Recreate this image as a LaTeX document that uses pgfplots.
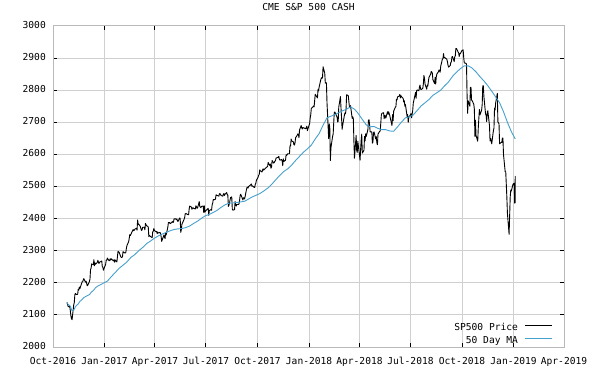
\documentclass[border=0pt]{standalone}
\usepackage{pgfplots}
\pgfplotsset{compat=1.18}
\usepgfplotslibrary{dateplot}
\usepackage{fontspec}
\setmainfont{DejaVu Sans Mono}
\definecolor{maBlue}{RGB}{70,160,205}
\definecolor{gridGray}{RGB}{208,208,208}
\newcommand{\chartfont}{\fontsize{9.6bp}{11bp}\selectfont}
\pgfplotstableread{
d p
2016-10-26 2139
2016-10-27 2133
2016-10-28 2126
2016-10-31 2126
2016-11-01 2111
2016-11-02 2097
2016-11-03 2088
2016-11-04 2085
2016-11-07 2131
2016-11-08 2139
2016-11-09 2163
2016-11-10 2167
2016-11-11 2164
2016-11-14 2164
2016-11-15 2180
2016-11-16 2177
2016-11-17 2187
2016-11-18 2182
2016-11-21 2198
2016-11-22 2203
2016-11-23 2204
2016-11-25 2213
2016-11-28 2202
2016-11-29 2205
2016-11-30 2199
2016-12-01 2191
2016-12-02 2192
2016-12-05 2204
2016-12-06 2212
2016-12-07 2241
2016-12-08 2246
2016-12-09 2259
2016-12-12 2256
2016-12-13 2272
2016-12-14 2253
2016-12-15 2262
2016-12-16 2258
2016-12-19 2263
2016-12-20 2270
2016-12-21 2265
2016-12-22 2260
2016-12-23 2264
2016-12-27 2268
2016-12-28 2250
2016-12-29 2249
2016-12-30 2239
2017-01-03 2258
2017-01-04 2271
2017-01-05 2270
2017-01-06 2277
2017-01-09 2269
2017-01-10 2269
2017-01-11 2275
2017-01-12 2271
2017-01-13 2275
2017-01-17 2268
2017-01-18 2272
2017-01-19 2264
2017-01-20 2271
2017-01-23 2265
2017-01-24 2281
2017-01-25 2298
2017-01-26 2297
2017-01-27 2295
2017-01-30 2281
2017-01-31 2279
2017-02-01 2279
2017-02-02 2281
2017-02-03 2297
2017-02-06 2293
2017-02-07 2293
2017-02-08 2295
2017-02-09 2308
2017-02-10 2316
2017-02-13 2328
2017-02-14 2338
2017-02-15 2350
2017-02-16 2347
2017-02-17 2351
2017-02-21 2366
2017-02-22 2362
2017-02-23 2364
2017-02-24 2367
2017-02-27 2370
2017-02-28 2364
2017-03-01 2396
2017-03-02 2382
2017-03-03 2383
2017-03-06 2375
2017-03-07 2368
2017-03-08 2363
2017-03-09 2365
2017-03-10 2373
2017-03-13 2373
2017-03-14 2365
2017-03-15 2385
2017-03-16 2381
2017-03-17 2378
2017-03-20 2374
2017-03-21 2344
2017-03-22 2348
2017-03-23 2346
2017-03-24 2344
2017-03-27 2341
2017-03-28 2359
2017-03-29 2361
2017-03-30 2369
2017-03-31 2363
2017-04-03 2359
2017-04-04 2360
2017-04-05 2353
2017-04-06 2358
2017-04-07 2355
2017-04-10 2357
2017-04-11 2353
2017-04-12 2344
2017-04-13 2329
2017-04-17 2349
2017-04-18 2342
2017-04-19 2338
2017-04-20 2355
2017-04-21 2349
2017-04-24 2374
2017-04-25 2388
2017-04-26 2387
2017-04-27 2388
2017-04-28 2384
2017-05-01 2388
2017-05-02 2391
2017-05-03 2388
2017-05-04 2389
2017-05-05 2399
2017-05-08 2399
2017-05-09 2397
2017-05-10 2399
2017-05-11 2394
2017-05-12 2391
2017-05-15 2402
2017-05-16 2400
2017-05-17 2357
2017-05-18 2365
2017-05-19 2382
2017-05-22 2394
2017-05-23 2398
2017-05-24 2404
2017-05-25 2415
2017-05-26 2416
2017-05-30 2412
2017-05-31 2412
2017-06-01 2430
2017-06-02 2439
2017-06-05 2436
2017-06-06 2429
2017-06-07 2433
2017-06-08 2434
2017-06-09 2432
2017-06-12 2430
2017-06-13 2440
2017-06-14 2437
2017-06-15 2432
2017-06-16 2433
2017-06-19 2453
2017-06-20 2437
2017-06-21 2436
2017-06-22 2434
2017-06-23 2438
2017-06-26 2439
2017-06-27 2419
2017-06-28 2440
2017-06-29 2420
2017-06-30 2423
2017-07-03 2429
2017-07-05 2432
2017-07-06 2410
2017-07-07 2425
2017-07-10 2428
2017-07-11 2426
2017-07-12 2443
2017-07-13 2448
2017-07-14 2459
2017-07-17 2459
2017-07-18 2461
2017-07-19 2474
2017-07-20 2473
2017-07-21 2472
2017-07-24 2470
2017-07-25 2477
2017-07-26 2478
2017-07-27 2475
2017-07-28 2472
2017-07-31 2470
2017-08-01 2476
2017-08-02 2478
2017-08-03 2472
2017-08-04 2476
2017-08-07 2481
2017-08-08 2474
2017-08-09 2474
2017-08-10 2438
2017-08-11 2441
2017-08-14 2466
2017-08-15 2464
2017-08-16 2468
2017-08-17 2430
2017-08-18 2426
2017-08-21 2428
2017-08-22 2453
2017-08-23 2444
2017-08-24 2439
2017-08-25 2444
2017-08-28 2444
2017-08-29 2446
2017-08-30 2457
2017-08-31 2472
2017-09-01 2476
2017-09-05 2458
2017-09-06 2465
2017-09-07 2465
2017-09-08 2461
2017-09-11 2488
2017-09-12 2496
2017-09-13 2498
2017-09-14 2495
2017-09-15 2500
2017-09-18 2504
2017-09-19 2506
2017-09-20 2508
2017-09-21 2501
2017-09-22 2502
2017-09-25 2497
2017-09-26 2497
2017-09-27 2507
2017-09-28 2510
2017-09-29 2519
2017-10-02 2529
2017-10-03 2535
2017-10-04 2537
2017-10-05 2552
2017-10-06 2549
2017-10-09 2545
2017-10-10 2551
2017-10-11 2555
2017-10-12 2551
2017-10-13 2553
2017-10-16 2558
2017-10-17 2560
2017-10-18 2561
2017-10-19 2562
2017-10-20 2575
2017-10-23 2565
2017-10-24 2570
2017-10-25 2557
2017-10-26 2560
2017-10-27 2581
2017-10-30 2573
2017-10-31 2575
2017-11-01 2579
2017-11-02 2580
2017-11-03 2588
2017-11-06 2591
2017-11-07 2590
2017-11-08 2594
2017-11-09 2585
2017-11-10 2582
2017-11-13 2584
2017-11-14 2579
2017-11-15 2565
2017-11-16 2586
2017-11-17 2578
2017-11-20 2582
2017-11-21 2599
2017-11-22 2597
2017-11-24 2602
2017-11-27 2602
2017-11-28 2627
2017-11-29 2626
2017-11-30 2648
2017-12-01 2642
2017-12-04 2639
2017-12-05 2630
2017-12-06 2629
2017-12-07 2637
2017-12-08 2652
2017-12-11 2660
2017-12-12 2664
2017-12-13 2662
2017-12-14 2652
2017-12-15 2676
2017-12-18 2690
2017-12-19 2682
2017-12-20 2679
2017-12-21 2684
2017-12-22 2683
2017-12-26 2680
2017-12-27 2683
2017-12-28 2688
2017-12-29 2674
2018-01-02 2696
2018-01-03 2713
2018-01-04 2724
2018-01-05 2743
2018-01-08 2748
2018-01-09 2751
2018-01-10 2748
2018-01-11 2768
2018-01-12 2787
2018-01-16 2776
2018-01-17 2803
2018-01-18 2798
2018-01-19 2810
2018-01-22 2833
2018-01-23 2839
2018-01-24 2837
2018-01-25 2839
2018-01-26 2873
2018-01-29 2853
2018-01-30 2822
2018-01-31 2824
2018-02-01 2822
2018-02-02 2762
2018-02-05 2649
2018-02-06 2695
2018-02-07 2682
2018-02-08 2581
2018-02-09 2620
2018-02-12 2656
2018-02-13 2663
2018-02-14 2698
2018-02-15 2731
2018-02-16 2732
2018-02-20 2716
2018-02-21 2701
2018-02-22 2703
2018-02-23 2747
2018-02-26 2780
2018-02-27 2744
2018-02-28 2714
2018-03-01 2678
2018-03-02 2691
2018-03-05 2721
2018-03-06 2729
2018-03-07 2727
2018-03-08 2739
2018-03-09 2786
2018-03-12 2783
2018-03-13 2765
2018-03-14 2749
2018-03-15 2747
2018-03-16 2752
2018-03-19 2712
2018-03-20 2717
2018-03-21 2711
2018-03-22 2643
2018-03-23 2588
2018-03-26 2659
2018-03-27 2613
2018-03-28 2606
2018-03-29 2641
2018-04-02 2582
2018-04-03 2615
2018-04-04 2644
2018-04-05 2663
2018-04-06 2604
2018-04-09 2613
2018-04-10 2656
2018-04-11 2642
2018-04-12 2664
2018-04-13 2656
2018-04-16 2677
2018-04-17 2706
2018-04-18 2708
2018-04-19 2693
2018-04-20 2670
2018-04-23 2670
2018-04-24 2635
2018-04-25 2639
2018-04-26 2667
2018-04-27 2670
2018-04-30 2648
2018-05-01 2655
2018-05-02 2636
2018-05-03 2630
2018-05-04 2663
2018-05-07 2672
2018-05-08 2672
2018-05-09 2697
2018-05-10 2723
2018-05-11 2728
2018-05-14 2730
2018-05-15 2711
2018-05-16 2722
2018-05-17 2720
2018-05-18 2713
2018-05-21 2733
2018-05-22 2725
2018-05-23 2733
2018-05-24 2727
2018-05-25 2721
2018-05-29 2690
2018-05-30 2724
2018-05-31 2705
2018-06-01 2735
2018-06-04 2747
2018-06-05 2749
2018-06-06 2772
2018-06-07 2770
2018-06-08 2779
2018-06-11 2782
2018-06-12 2787
2018-06-13 2776
2018-06-14 2783
2018-06-15 2780
2018-06-18 2774
2018-06-19 2763
2018-06-20 2767
2018-06-21 2750
2018-06-22 2755
2018-06-25 2718
2018-06-26 2724
2018-06-27 2700
2018-06-28 2716
2018-06-29 2718
2018-07-02 2727
2018-07-03 2714
2018-07-05 2737
2018-07-06 2760
2018-07-09 2784
2018-07-10 2793
2018-07-11 2775
2018-07-12 2798
2018-07-13 2801
2018-07-16 2798
2018-07-17 2809
2018-07-18 2816
2018-07-19 2804
2018-07-20 2802
2018-07-23 2806
2018-07-24 2820
2018-07-25 2846
2018-07-26 2837
2018-07-27 2819
2018-07-30 2803
2018-07-31 2816
2018-08-01 2813
2018-08-02 2828
2018-08-03 2840
2018-08-06 2850
2018-08-07 2858
2018-08-08 2857
2018-08-09 2853
2018-08-10 2833
2018-08-13 2821
2018-08-14 2840
2018-08-15 2819
2018-08-16 2841
2018-08-17 2850
2018-08-20 2858
2018-08-21 2863
2018-08-22 2861
2018-08-23 2856
2018-08-24 2875
2018-08-27 2897
2018-08-28 2898
2018-08-29 2914
2018-08-30 2901
2018-08-31 2902
2018-09-04 2896
2018-09-05 2888
2018-09-06 2878
2018-09-07 2872
2018-09-10 2877
2018-09-11 2887
2018-09-12 2888
2018-09-13 2904
2018-09-14 2905
2018-09-17 2889
2018-09-18 2904
2018-09-19 2907
2018-09-20 2930
2018-09-21 2930
2018-09-24 2919
2018-09-25 2916
2018-09-26 2905
2018-09-27 2914
2018-09-28 2914
2018-10-01 2924
2018-10-02 2923
2018-10-03 2926
2018-10-04 2902
2018-10-05 2885
2018-10-08 2884
2018-10-09 2881
2018-10-10 2785
2018-10-11 2728
2018-10-12 2767
2018-10-15 2750
2018-10-16 2809
2018-10-17 2809
2018-10-18 2769
2018-10-19 2768
2018-10-22 2756
2018-10-23 2741
2018-10-24 2656
2018-10-25 2706
2018-10-26 2659
2018-10-29 2641
2018-10-30 2682
2018-10-31 2712
2018-11-01 2740
2018-11-02 2723
2018-11-05 2738
2018-11-06 2756
2018-11-07 2814
2018-11-08 2814
2018-11-09 2781
2018-11-12 2726
2018-11-13 2722
2018-11-14 2702
2018-11-15 2731
2018-11-16 2736
2018-11-19 2690
2018-11-20 2642
2018-11-21 2650
2018-11-23 2633
2018-11-26 2674
2018-11-27 2682
2018-11-28 2744
2018-11-29 2738
2018-11-30 2760
2018-12-03 2790
2018-12-04 2701
2018-12-06 2696
2018-12-07 2633
2018-12-10 2638
2018-12-11 2637
2018-12-12 2651
2018-12-13 2651
2018-12-14 2600
2018-12-17 2546
2018-12-18 2546
2018-12-19 2507
2018-12-20 2467
2018-12-21 2417
2018-12-24 2351
2018-12-26 2468
2018-12-27 2489
2018-12-28 2486
2018-12-31 2507
2019-01-02 2510
2019-01-03 2448
2019-01-04 2532
2019-01-04 2448
}\pricetable
\pgfplotstableread{
d m
2016-10-26 2136
2016-10-28 2133
2016-11-01 2127
2016-11-03 2117
2016-11-04 2113
2016-11-07 2115
2016-11-09 2122
2016-11-11 2128
2016-11-15 2134
2016-11-18 2142
2016-11-22 2148
2016-11-25 2154
2016-11-30 2159
2016-12-05 2163
2016-12-08 2170
2016-12-13 2178
2016-12-16 2185
2016-12-21 2191
2016-12-27 2196
2016-12-30 2199
2017-01-06 2205
2017-01-13 2219
2017-01-20 2232
2017-01-27 2245
2017-02-03 2255
2017-02-10 2265
2017-02-17 2279
2017-02-24 2288
2017-03-03 2300
2017-03-10 2310
2017-03-17 2322
2017-03-24 2330
2017-03-31 2339
2017-04-07 2346
2017-04-13 2351
2017-04-21 2357
2017-04-28 2362
2017-05-05 2366
2017-05-12 2368
2017-05-19 2369
2017-05-26 2372
2017-06-02 2377
2017-06-09 2385
2017-06-16 2392
2017-06-23 2401
2017-06-30 2409
2017-07-07 2413
2017-07-14 2419
2017-07-21 2426
2017-07-28 2435
2017-08-04 2443
2017-08-11 2448
2017-08-18 2449
2017-08-25 2450
2017-09-01 2452
2017-09-08 2454
2017-09-15 2461
2017-09-22 2468
2017-09-29 2473
2017-10-06 2479
2017-10-13 2487
2017-10-20 2496
2017-10-27 2508
2017-11-03 2522
2017-11-10 2535
2017-11-17 2547
2017-11-24 2555
2017-12-01 2567
2017-12-08 2581
2017-12-15 2594
2017-12-22 2607
2017-12-29 2617
2018-01-05 2629
2018-01-12 2648
2018-01-19 2665
2018-01-26 2691
2018-02-02 2714
2018-02-09 2719
2018-02-16 2724
2018-02-23 2730
2018-03-02 2736
2018-03-09 2741
2018-03-16 2748
2018-03-23 2741
2018-03-29 2729
2018-04-06 2709
2018-04-13 2692
2018-04-20 2686
2018-04-27 2687
2018-05-04 2681
2018-05-11 2677
2018-05-18 2677
2018-05-25 2673
2018-06-01 2672
2018-06-08 2686
2018-06-15 2701
2018-06-22 2714
2018-06-29 2717
2018-07-06 2723
2018-07-13 2737
2018-07-20 2751
2018-07-27 2761
2018-08-03 2771
2018-08-10 2784
2018-08-17 2792
2018-08-24 2800
2018-08-31 2814
2018-09-07 2826
2018-09-14 2843
2018-09-21 2856
2018-09-28 2867
2018-10-05 2876
2018-10-12 2876
2018-10-19 2869
2018-10-26 2857
2018-11-02 2842
2018-11-09 2829
2018-11-16 2814
2018-11-23 2797
2018-11-30 2779
2018-12-07 2761
2018-12-14 2733
2018-12-21 2700
2018-12-28 2671
2019-01-04 2648
}\matable
\begin{document}
\begin{tikzpicture}
\path[use as bounding box] (-53bp,-31bp) rectangle (546bp,347bp);
\begin{axis}[
  at={(0,0)}, anchor=south west,
  scale only axis, width=511bp, height=321bp,
  date coordinates in=x,
  xmin=2016-10-01, xmax=2019-04-01,
  ymin=2000, ymax=3000,
  xtick={2016-10-01,2017-01-01,2017-04-01,2017-07-01,2017-10-01,2018-01-01,2018-04-01,2018-07-01,2018-10-01,2019-01-01,2019-04-01},
  xticklabels={Oct-2016,Jan-2017,Apr-2017,Jul-2017,Oct-2017,Jan-2018,Apr-2018,Jul-2018,Oct-2018,Jan-2019,Apr-2019},
  ytick={2000,2100,2200,2300,2400,2500,2600,2700,2800,2900,3000},
  yticklabels={2000,2100,2200,2300,2400,2500,2600,2700,2800,2900,3000},
  grid=major,
  major grid style={gridGray, line width=1bp},
  axis line style={draw=gray!55, line width=1bp},
  tick align=inside,
  major tick length=4bp,
  tick style={black, line width=1bp},
  tick label style={font=\chartfont, inner sep=0pt, text height=7bp, text depth=2bp},
  xticklabel style={anchor=center, yshift=-15bp},
  yticklabel style={anchor=east, xshift=-7bp},
  every axis title shift=0pt,
  title={CME S\&P 500 CASH},
  title style={at={(0.5,1)}, anchor=center, yshift=18bp, font=\chartfont, inner sep=0pt, text height=7bp, text depth=2bp},
  legend style={at={(1,0)}, anchor=south east, xshift=-11bp, yshift=1.5bp,
    draw=none, fill=none, inner sep=0pt, row sep=4bp, column sep=7bp, font=\chartfont,
    nodes={inner sep=0pt, text height=7bp, text depth=2bp}},
  legend cell align=right,
  legend plot pos=right,
  legend image code/.code={\draw[#1] (0bp,2.5bp) -- (27bp,2.5bp);},
]
\addplot[black, line width=0.9bp, line join=round] table[x=d, y=p] {\pricetable};
\addlegendentry{SP500 Price}
\addplot[maBlue, line width=0.9bp] table[x=d, y=m] {\matable};
\addlegendentry{50 Day MA}
\end{axis}
\end{tikzpicture}
\end{document}
